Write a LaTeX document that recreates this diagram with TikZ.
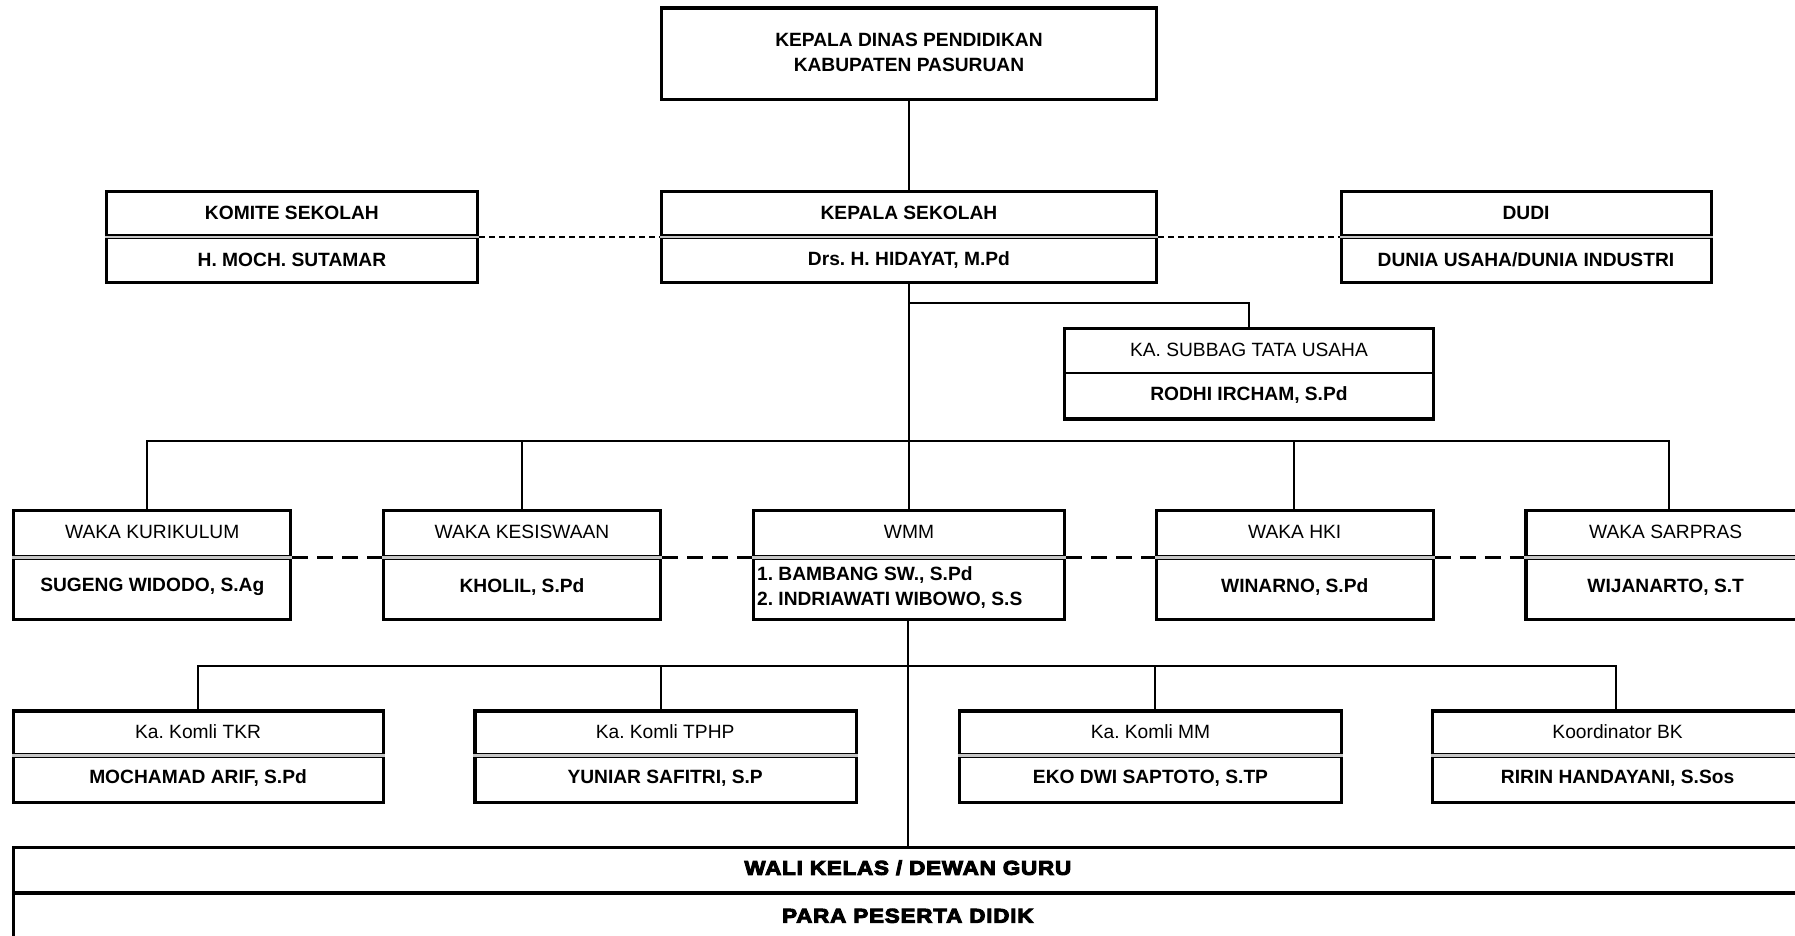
\documentclass[tikz,border=0pt]{standalone}
\usepackage{fontspec}
\setmainfont{Liberation Sans}
\newfontfamily\blackfont[FakeBold=5,FakeStretch=1.12,LetterSpace=4]{Liberation Sans Bold}
\usetikzlibrary{fit}
\frenchspacing
\begin{document}
\begin{tikzpicture}[x=0.5724pt,y=-0.5724pt,
  font=\fontsize{9.6}{11.5}\selectfont\frenchspacing,
  orgbox/.style={draw, line width=1.6pt, inner sep=0pt, rectangle},
  lbl/.style={inner sep=0pt, anchor=center},
  nm/.style={inner sep=0pt, anchor=center, font=\fontsize{9.6}{11.5}\selectfont\frenchspacing\bfseries},
  conn/.style={line width=1pt},
  dotline/.style={line width=1.1pt, dash pattern=on 3pt off 2pt},
  dashline/.style={line width=1.5pt, dash pattern=on 8pt off 4.5pt},
  dbl/.style={double=gray!45, line width=0.7pt, double distance=1.1pt},
  sgl/.style={line width=1.1pt}]
\useasboundingbox (0,0) rectangle (1568,817.6);

% ---------- top ----------
\node[orgbox, fit={(578,7) (1010,87)}] (kd) {};
\node[nm] (kdA) at (794,35) {KEPALA DINAS PENDIDIKAN};
\node[nm] (kdB) at (794,57) {KABUPATEN PASURUAN};

% ---------- row 2 ----------
\node[orgbox, fit={(578,167) (1010,247)}] (ks) {};
\draw[dbl] (ks.west) -- (ks.east);
\node[nm] (ksA) at (794,186) {KEPALA SEKOLAH};
\node[nm] (ksB) at (794,227) {Drs. H. HIDAYAT, M.Pd};

\node[orgbox, fit={(93,167) (417,247)}] (kom) {};
\draw[dbl] (kom.west) -- (kom.east);
\node[nm] (komA) at (255,186) {KOMITE SEKOLAH};
\node[nm] (komB) at (255,227) {H. MOCH. SUTAMAR};

\node[orgbox, fit={(1172,167) (1495,247)}] (dudi) {};
\draw[dbl] (dudi.west) -- (dudi.east);
\node[nm] (dudiA) at (1333,186) {DUDI};
\node[nm] (dudiB) at (1333,227) {DUNIA USAHA/DUNIA INDUSTRI};

\draw[dotline] (kom.east) -- (ks.west);
\draw[dotline] (ks.east) -- (dudi.west);
\draw[conn] (kd.south) -- (ks.north);

% ---------- tata usaha ----------
\node[orgbox, fit={(930,287) (1252,366)}] (tu) {};
\draw[sgl] (930,326) -- (1252,326);
\node[lbl] (tuA) at (1091,306) {KA. SUBBAG TATA USAHA};
\node[nm] (tuB) at (1091,345) {RODHI IRCHAM, S.Pd};
\coordinate (tuj) at (794,265);
\draw[conn] (tuj) -| (tu.north);

% ---------- row 3 ----------
\node[orgbox, fit={(12,446) (254,541)}] (w1) {};
\node[orgbox, fit={(335,446) (577,541)}] (w2) {};
\node[orgbox, fit={(658,446) (930,541)}] (w3) {};
\node[orgbox, fit={(1010,446) (1252,541)}] (w4) {};
\node[orgbox, fit={(1333,446) (1577,541)}] (w5) {};
\foreach \n in {w1,w2,w3,w4,w5} {\draw[dbl] (\n.west |- 0,487) -- (\n.east |- 0,487);}
\node[lbl] (w1A) at (133,465) {WAKA KURIKULUM};
\node[nm] (w1B) at (133,513) {SUGENG WIDODO, S.Ag};
\node[lbl] (w2A) at (456,465) {WAKA KESISWAAN};
\node[nm] (w2B) at (456,513) {KHOLIL, S.Pd};
\node[lbl] (w3A) at (794,465) {WMM};
\node[nm, anchor=west] (w3B) at (661,502) {1. BAMBANG SW., S.Pd};
\node[nm, anchor=west] (w3C) at (661,524) {2. INDRIAWATI WIBOWO, S.S};
\node[lbl] (w4A) at (1131,465) {WAKA HKI};
\node[nm] (w4B) at (1131,513) {WINARNO, S.Pd};
\node[lbl] (w5A) at (1455,465) {WAKA SARPRAS};
\node[nm] (w5B) at (1455,513) {WIJANARTO, S.T};

\draw[dashline] (w1.east |- 0,487) -- (w2.west |- 0,487);
\draw[dashline] (w2.east |- 0,487) -- (w3.west |- 0,487);
\draw[dashline] (w3.east |- 0,487) -- (w4.west |- 0,487);
\draw[dashline] (w4.east |- 0,487) -- (w5.west |- 0,487);

\draw[conn] (ks.south) -- (w3.north);
\coordinate (b1L) at (128,385);
\coordinate (b1R) at (1458,385);
\draw[conn] (b1L |- w1.north) -- (b1L) -- (b1R) -- (b1R |- w5.north);
\draw[conn] (456,385) -- (w2.north);
\draw[conn] (1130,385) -- (1130,446);

% ---------- row 4 ----------
\node[orgbox, fit={(12,621) (335,701)}] (k1) {};
\node[orgbox, fit={(415,621) (748,701)}] (k2) {};
\node[orgbox, fit={(838,621) (1172,701)}] (k3) {};
\node[orgbox, fit={(1251,621) (1578,701)}] (k4) {};
\foreach \n in {k1,k2,k3,k4} {\draw[dbl] (\n.west |- 0,660) -- (\n.east |- 0,660);}
\node[lbl] (k1A) at (173,639) {Ka. Komli TKR};
\node[nm] (k1B) at (173,680) {MOCHAMAD ARIF, S.Pd};
\node[lbl] (k2A) at (581,639) {Ka. Komli TPHP};
\node[nm] (k2B) at (581,680) {YUNIAR SAFITRI, S.P};
\node[lbl] (k3A) at (1005,639) {Ka. Komli MM};
\node[nm] (k3B) at (1005,680) {EKO DWI SAPTOTO, S.TP};
\node[lbl] (k4A) at (1413,639) {Koordinator BK};
\node[nm] (k4B) at (1413,680) {RIRIN HANDAYANI, S.Sos};

\coordinate (b2L) at (173,582);
\coordinate (b2R) at (1412,582);
\draw[conn] (b2L |- k1.north) -- (b2L) -- (b2R) -- (b2R |- k4.north);
\draw[conn] (577,582) -- (577,621);
\draw[conn] (1009,582) -- (1009,621);

% ---------- bottom ----------
\node[orgbox, fit={(12,740) (1590,840)}] (wk) {};
\draw[line width=1.6pt] (12,780) -- (1590,780);
\node[lbl, font=\fontsize{10}{11.5}\blackfont] (wkA) at (793,758) {WALI KELAS / DEWAN GURU};
\node[lbl, font=\fontsize{10}{11.5}\blackfont] (wkB) at (793,800) {PARA PESERTA DIDIK};
\draw[conn] (w3.south -| 793,0) -- (wk.north -| 793,0);
\end{tikzpicture}
\end{document}
